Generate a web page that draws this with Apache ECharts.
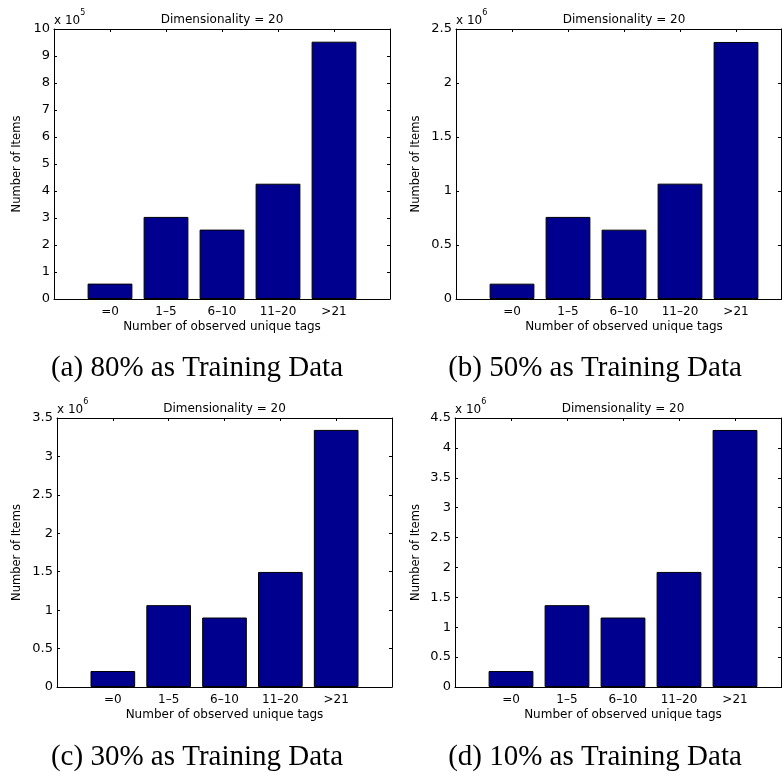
<!DOCTYPE html>
<html>
<head>
<meta charset="utf-8">
<script src="https://cdn.jsdelivr.net/npm/echarts@6/dist/echarts.min.js"></script>
<style>
html,body{margin:0;padding:0;background:#fff;}
#c{width:782px;height:772px;}
</style>
</head>
<body>
<div id="c"></div>
<script>
// ---- data ----
const categories = ['=0', '1\u20135', '6\u201310', '11\u201320', '>21'];
const valuesA = [57000, 304000, 257000, 427000, 953000];
const valuesB = [142000, 760000, 642000, 1068000, 2380000];
const valuesC = [208000, 1065000, 904000, 1497000, 3345000];
const valuesD = [267000, 1369000, 1162000, 1925000, 4300000];
const yMaxes = [1000000, 2500000, 3500000, 4500000];
const yIntervals = [100000, 500000, 500000, 500000];
const exponents = [5, 6, 6, 6];
const captions = ['(a) 80% as Training Data', '(b) 50% as Training Data',
                  '(c) 30% as Training Data', '(d) 10% as Training Data'];
const panelTitle = 'Dimensionality = 20';
const xAxisName = 'Number of observed unique tags';
const yAxisName = 'Number of Items';

// ---- layout ----
const grids = [
  {left: 54, top: 29, width: 336, height: 270},
  {left: 456, top: 29, width: 336, height: 270},
  {left: 57, top: 418, width: 335, height: 269},
  {left: 455, top: 418, width: 336, height: 269}
];
const rightOffsets = [0, -11, 0, -10];
const yNameGaps = [31, 34, 34, 33];
const captionPos = [[197, 368], [595, 368], [197, 757], [595, 757]];
const allValues = [valuesA, valuesB, valuesC, valuesD];

const SANS = 'DejaVu Sans';
const SERIF = 'Liberation Serif';
const paddedCats = [''].concat(categories, ['']);

const xAxes = [], yAxes = [], series = [], graphics = [];
grids.forEach((g, i) => {
  const lineStyle = {color: '#000', width: 1};
  xAxes.push({
    type: 'category', gridIndex: i, position: 'bottom', data: paddedCats,
    boundaryGap: false,
    axisLine: {show: true, lineStyle: lineStyle},
    axisTick: {show: true, inside: true, length: 3, interval: 0, lineStyle: lineStyle},
    axisLabel: {interval: 0, color: '#000', fontFamily: SANS, fontSize: 12, margin: 7},
    splitLine: {show: false},
    name: xAxisName, nameLocation: 'middle', nameGap: 22,
    nameTextStyle: {color: '#000', fontFamily: SANS, fontSize: 12}
  });
  xAxes.push({
    type: 'category', gridIndex: i, position: 'top', data: paddedCats,
    boundaryGap: false,
    axisLine: {show: true, onZero: false, lineStyle: lineStyle},
    axisTick: {show: true, inside: true, length: 3, interval: 0, lineStyle: lineStyle},
    axisLabel: {show: false}, splitLine: {show: false}
  });
  const e = exponents[i];
  const fmt = v => String(+(v / Math.pow(10, e)).toFixed(2));
  yAxes.push({
    type: 'value', gridIndex: i, position: 'left', min: 0, max: yMaxes[i], interval: yIntervals[i],
    axisLine: {show: true, onZero: false, lineStyle: lineStyle},
    axisTick: {show: true, inside: true, length: 3, lineStyle: lineStyle},
    axisLabel: {color: '#000', fontFamily: SANS, fontSize: 13, margin: 4, formatter: fmt},
    splitLine: {show: false},
    name: yAxisName, nameLocation: 'middle', nameGap: yNameGaps[i],
    nameTextStyle: {color: '#000', fontFamily: SANS, fontSize: 11.5}
  });
  yAxes.push({
    type: 'value', gridIndex: i, position: 'right', offset: rightOffsets[i],
    min: 0, max: yMaxes[i], interval: yIntervals[i],
    axisLine: {show: true, onZero: false, lineStyle: lineStyle},
    axisTick: {show: true, inside: true, length: 3, lineStyle: lineStyle},
    axisLabel: {show: false}, splitLine: {show: false}
  });
  series.push({
    type: 'bar', xAxisIndex: 2 * i, yAxisIndex: 2 * i,
    data: [null].concat(allValues[i], [null]),
    barWidth: '80%',
    itemStyle: {color: '#00008F', borderColor: '#000', borderWidth: 1},
    silent: true
  });
  // panel title
  graphics.push({
    type: 'text', x: g.left + g.width / 2, y: g.top - 9,
    style: {text: panelTitle, fill: '#000', font: '12px "' + SANS + '"',
            align: 'center', verticalAlign: 'middle'}
  });
  // exponent label
  graphics.push({
    type: 'text', x: g.left, y: g.top - 2,
    style: {
      text: '{b|x 10}{s|' + e + '}', align: 'left', verticalAlign: 'bottom',
      rich: {
        b: {fontFamily: SANS, fontSize: 12, fill: '#000', lineHeight: 18, verticalAlign: 'bottom'},
        s: {fontFamily: SANS, fontSize: 8, fill: '#000', lineHeight: 18, verticalAlign: 'top'}
      }
    }
  });
  // caption
  graphics.push({
    type: 'text', x: captionPos[i][0], y: captionPos[i][1],
    style: {text: captions[i], fill: '#000', font: '29px "' + SERIF + '"',
            align: 'center', verticalAlign: 'middle'}
  });
});

const chart = echarts.init(document.getElementById('c'), null, {renderer: 'canvas'});
chart.setOption({
  animation: false,
  backgroundColor: '#fff',
  grid: grids.map(g => Object.assign({containLabel: false, outerBoundsMode: 'none'}, g)),
  xAxis: xAxes,
  yAxis: yAxes,
  series: series,
  graphic: graphics
});
</script>
</body>
</html>
